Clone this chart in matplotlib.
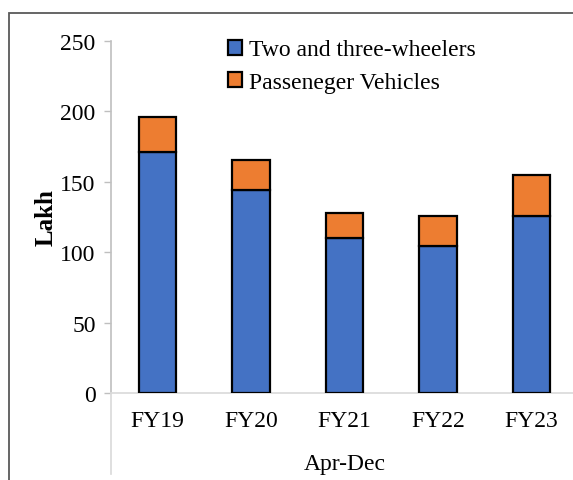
import matplotlib
matplotlib.use("Agg")
from matplotlib import pyplot as plt
from matplotlib.patches import Rectangle
from matplotlib.lines import Line2D
import numpy as np

years = ["FY19", "FY20", "FY21", "FY22", "FY23"]
two_three = [171, 144, 110, 104.5, 126]
passenger = [25, 21.5, 18, 21.5, 29]

blue = "#4472C4"
orange = "#ED7D31"

plt.rcParams["font.family"] = ["Liberation Serif", "DejaVu Serif"]

fig = plt.figure(figsize=(5.73, 4.81), dpi=100)
ax = fig.add_axes([111/573, 1 - 394/481, 467/573, (394 - 42)/481])

x = np.arange(len(years))
ax.bar(x, two_three, width=0.4, color=blue, edgecolor="black", linewidth=1.6,
       label="Two and three-wheelers", zorder=3)
ax.bar(x, passenger, width=0.4, bottom=two_three, color=orange, edgecolor="black",
       linewidth=1.6, label="Passeneger Vehicles", zorder=3)

ax.set_xlim(-0.5, 4.5)
ax.set_ylim(0, 250)
ax.set_yticks([0, 50, 100, 150, 200, 250])
ax.set_xticks(x)
ax.set_xticklabels(years)
ax.tick_params(axis="y", labelsize=17, length=5, width=1, color="#bfbfbf", pad=6)
ax.tick_params(axis="x", labelsize=17, length=0, pad=12)

for s in ["top", "right"]:
    ax.spines[s].set_visible(False)
ax.spines["left"].set_color("#bfbfbf")
ax.spines["bottom"].set_color("#d9d9d9")
ax.spines["left"].set_linewidth(1.2)
ax.spines["bottom"].set_linewidth(1.2)

ax.set_ylabel("Lakh", fontsize=18, fontweight="bold", labelpad=2)
ax.set_xlabel("Apr-Dec", fontsize=17, labelpad=16)

# category axis separator below the plot, like Excel
fig.add_artist(Line2D([111/573, 111/573], [1 - 394/481, 1 - 475/481],
                      color="#d9d9d9", linewidth=1.2))

# outer chart frame
fig.add_artist(Rectangle((8.5/573, -0.1), 1.2, 1 - 13.5/481 + 0.1, fill=False,
                         edgecolor="#595959", linewidth=1.3))

leg = ax.legend(loc="upper left", bbox_to_anchor=(0.205, 1.065), frameon=False,
                fontsize=17, handlelength=0.6, handleheight=0.6,
                handletextpad=0.3, labelspacing=0.5)

fig.savefig("out.png", dpi=100)
